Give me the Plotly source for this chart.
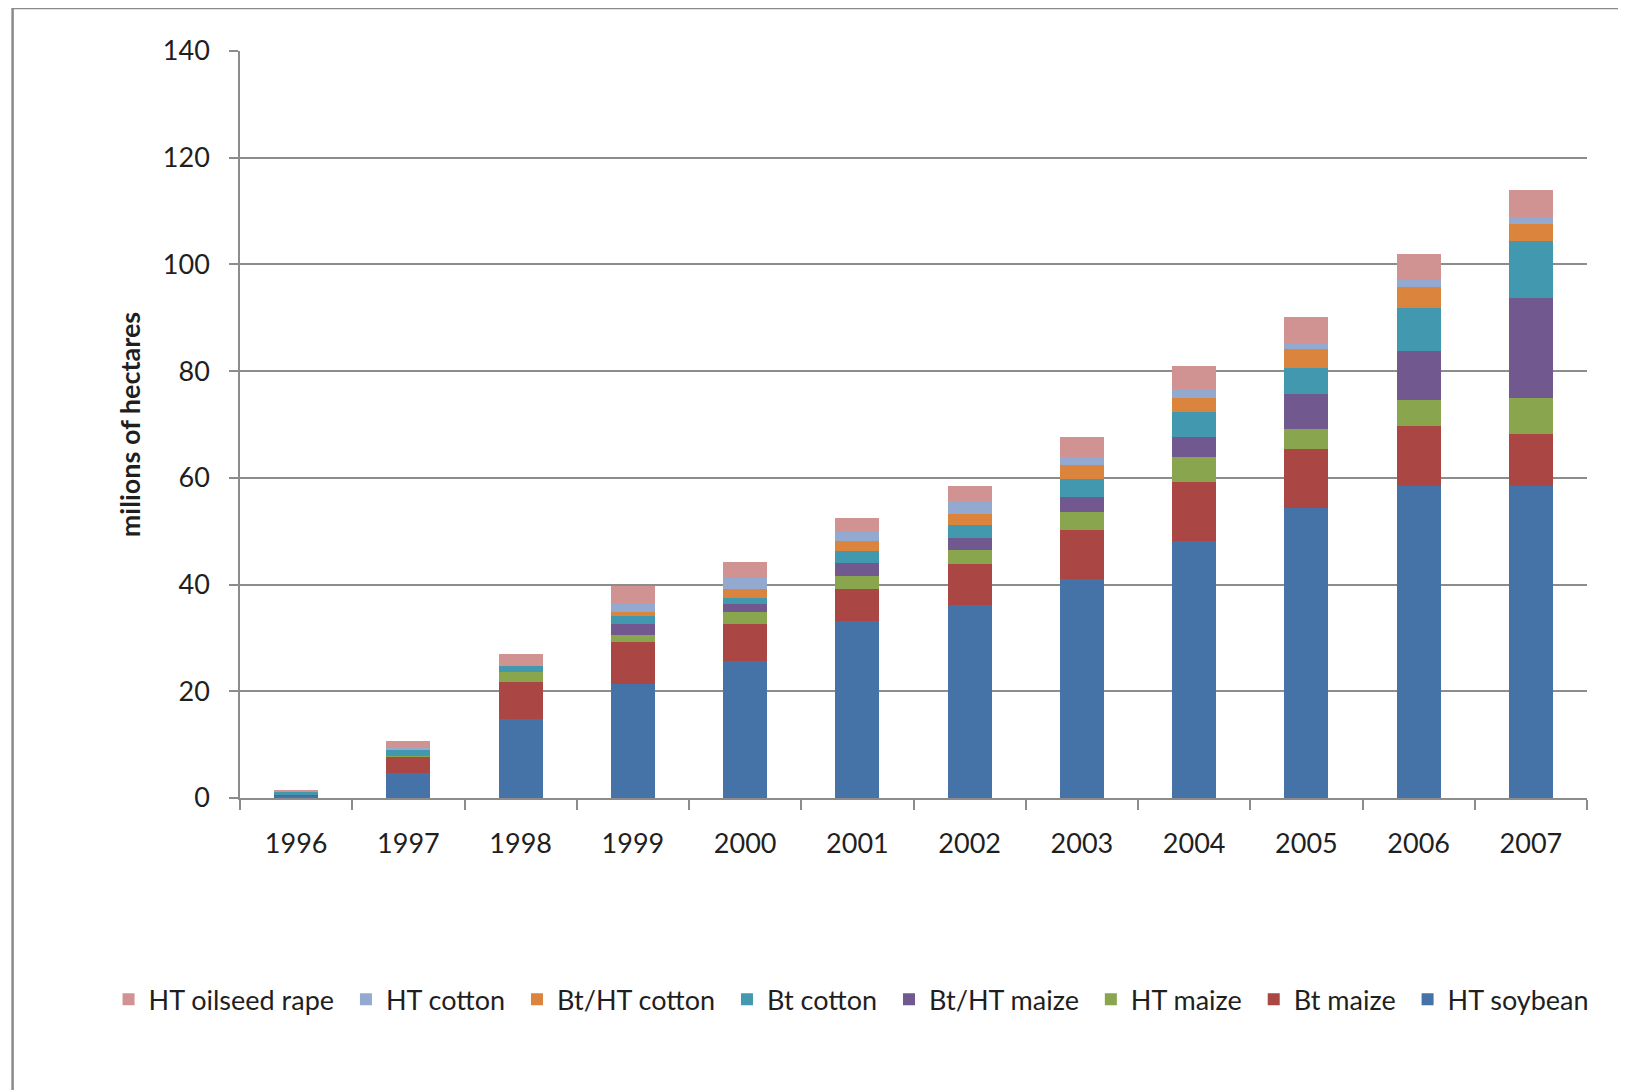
import plotly.graph_objects as go

years = ["1996", "1997", "1998", "1999", "2000", "2001", "2002", "2003", "2004", "2005", "2006", "2007"]

ht_soybean = [0.5, 4.7, 14.8, 21.3, 25.6, 33.2, 36.25, 41.1, 48.2, 54.4, 58.4, 58.4]
bt_maize = [0.1, 3.0, 7.0, 7.9, 7.1, 6.0, 7.55, 9.2, 11.05, 11.1, 11.4, 9.8]
ht_maize = [0.0, 0.25, 1.8, 1.3, 2.2, 2.4, 2.7, 3.3, 4.75, 3.7, 4.8, 6.7]
bt_ht_maize = [0.0, 0.0, 0.0, 2.2, 1.4, 2.5, 2.2, 2.9, 3.75, 6.5, 9.1, 18.8]
bt_cotton = [0.6, 1.0, 1.2, 1.4, 1.2, 2.1, 2.4, 3.3, 4.55, 4.8, 8.1, 10.7]
bt_ht_cotton = [0.0, 0.0, 0.0, 0.8, 1.7, 1.9, 2.2, 2.6, 2.7, 3.7, 4.0, 3.2]
ht_cotton = [0.0, 0.5, 0.0, 1.6, 2.1, 1.7, 2.45, 1.5, 1.7, 1.1, 1.3, 1.3]
ht_oilseed_rape = [0.2, 1.2, 2.2, 3.3, 2.9, 2.7, 2.65, 3.7, 4.2, 4.8, 4.9, 5.1]

series = [
    ("HT soybean", ht_soybean, "#4572A7"),
    ("Bt maize", bt_maize, "#AA4643"),
    ("HT maize", ht_maize, "#89A54E"),
    ("Bt/HT maize", bt_ht_maize, "#71588F"),
    ("Bt cotton", bt_cotton, "#4198AF"),
    ("Bt/HT cotton", bt_ht_cotton, "#DB843D"),
    ("HT cotton", ht_cotton, "#93A9CF"),
    ("HT oilseed rape", ht_oilseed_rape, "#D19392"),
]

y_ticks = [0, 20, 40, 60, 80, 100, 120, 140]

FONT = "Lato, 'Open Sans', sans-serif"
TXT = "#1f1f1f"
GRID = "#8c8c8c"

fig = go.Figure()
for i, (name, vals, col) in enumerate(series):
    # trailing no-break space widens the gap between legend entries (last entry excluded)
    label = name if i == 0 else name + "\u00a0"
    fig.add_trace(go.Bar(
        x=years, y=vals, name=label,
        marker=dict(color=col, line=dict(width=0)),
    ))

# page body has an 8px margin, so the figure is drawn 8px in from the window edge
OFF = 8
W, H = 1626 - OFF, 1090 - OFF
L, T = 239.5 - OFF, 51 - OFF
R = W - (1587 - OFF)
B = H - (798.3 - OFF)
pw = W - L - R
ph = H - T - B

fig.update_layout(
    width=W, height=H,
    barmode="stack",
    bargap=0.61,
    paper_bgcolor="white",
    plot_bgcolor="white",
    margin=dict(l=L, r=R, t=T, b=B, autoexpand=False),
    font=dict(family=FONT, size=27, color=TXT),
    showlegend=True,
    legend=dict(
        orientation="h",
        traceorder="reversed",
        xref="paper", yref="paper",
        x=(108 - OFF - L) / pw, xanchor="left",
        y=-((1000 - OFF) - (H - B)) / ph, yanchor="middle",
        font=dict(family=FONT, size=27, color=TXT),
        bgcolor="rgba(0,0,0,0)",
        itemclick=False,
    ),
    xaxis=dict(
        type="category",
        showgrid=False,
        showline=True, linecolor=GRID, linewidth=1.5,
        ticks="outside", ticklen=10, tickcolor=GRID, tickwidth=1.5,
        tickson="boundaries",
        ticklabelstandoff=21,
        tickfont=dict(family=FONT, size=27, color=TXT),
    ),
    yaxis=dict(
        range=[0, 140],
        tickvals=y_ticks,
        showgrid=True, gridcolor=GRID, gridwidth=1.5,
        showline=True, linecolor=GRID, linewidth=1.5,
        ticks="outside", ticklen=9, tickcolor=GRID, tickwidth=1.5,
        ticklabelstandoff=14,
        zeroline=False,
        tickfont=dict(family=FONT, size=27, color=TXT),
        title=dict(text="<b>milions of hectares</b>", standoff=14,
                   font=dict(family=FONT, size=27, color=TXT)),
    ),
)

# outer frame (left and top edges of the cropped chart border)
fx = (12 - OFF - L) / pw
fy = 1 + (T - 0) / ph
fig.add_shape(type="line", xref="paper", yref="paper", x0=fx, x1=(W - L) / pw + 0.01, y0=fy, y1=fy,
              line=dict(color="#8a8a8a", width=2.5))
fig.add_shape(type="line", xref="paper", yref="paper", x0=fx, x1=fx, y0=fy, y1=-(B + 5) / ph,
              line=dict(color="#8a8a8a", width=2.5))

fig.write_html("out.html")
